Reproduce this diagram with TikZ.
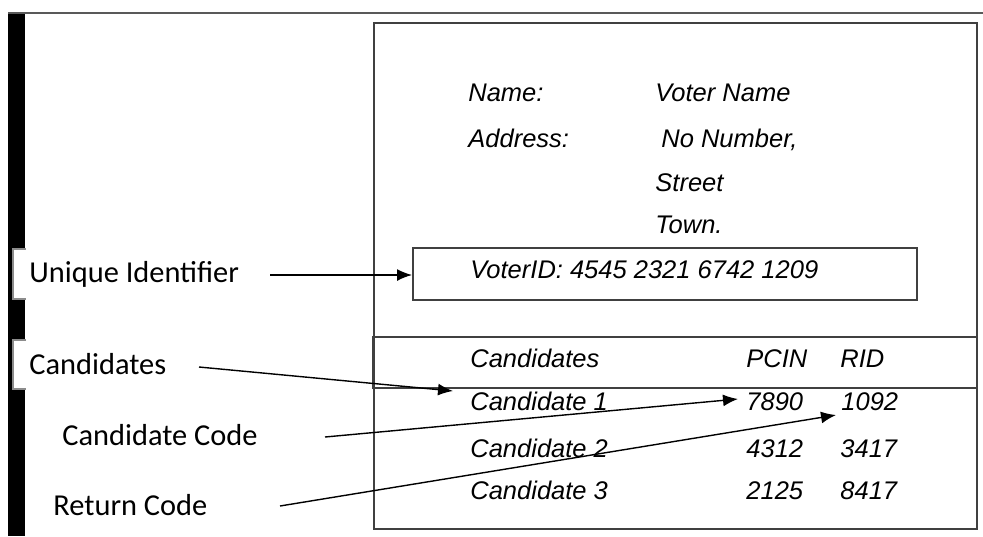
\documentclass[tikz,border=0pt]{standalone}
\usepackage{fontspec}
\newfontfamily\ballotfont{Liberation Sans}
\newfontfamily\labelfont{Carlito}
\usetikzlibrary{arrows.meta}
\tikzset{
  bt/.style={anchor=base west, inner sep=0pt, font=\ballotfont\itshape\fontsize{12.75}{15}\selectfont},
  lbl/.style={anchor=base west, inner sep=0pt, font=\labelfont\fontsize{15.2}{18}\selectfont},
  frame/.style={draw=black!75, line width=0.75pt, inner sep=0pt, anchor=north west},
  arr/.style={-{Latex[length=7.5pt,width=6pt]}, line width=0.7pt, black},
}
\begin{document}
\begin{tikzpicture}[x=0.5pt,y=-0.5pt]
\useasboundingbox (0,0) rectangle (983,536);
% left black bar and top rule
\fill[black] (8,13) rectangle (25,536);
\draw[black!65, line width=1pt] (8,13) -- (983,13);
% white notches for labels
\fill[white] (13,249) rectangle (26,299);
\draw[black!45, line width=0.6pt] (26,249) -- (13,249) -- (13,299) -- (26,299);
\fill[white] (13,340) rectangle (26,389);
\draw[black!45, line width=0.6pt] (26,340) -- (13,340) -- (13,389) -- (26,389);
% ballot frames
\node[frame, minimum width=301.5pt, minimum height=253pt] (ballot) at (373,22) {};
\node[frame, minimum width=252pt, minimum height=26pt] (vid) at (412,247) {};
\node[frame, minimum width=302pt, minimum height=25.5pt] (band) at (372,336) {};
% ballot texts
\node[bt] (name) at (468,101) {Name:};
\node[bt] (vname) at (655,101) {Voter Name};
\node[bt] (addr) at (468,147) {Address:};
\node[bt] (num) at (661,147) {No Number,};
\node[bt] (street) at (655,191) {Street};
\node[bt] (town) at (655,233) {Town.};
\node[bt] (vidtext) at (470,278) {VoterID: 4545 2321 6742 1209};
\node[bt] (hcand) at (470,367) {Candidates};
\node[bt] (hpcin) at (746,367) {PCIN};
\node[bt] (hrid) at (840,367) {RID};
\node[bt] (c1) at (470,410) {Candidate 1};
\node[bt] (p1) at (746,410) {7890};
\node[bt] (r1) at (841,410) {1092};
\node[bt] (c2) at (470,457) {Candidate 2};
\node[bt] (p2) at (746,457) {4312};
\node[bt] (r2) at (840,457) {3417};
\node[bt] (c3) at (470,499) {Candidate 3};
\node[bt] (p3) at (746,499) {2125};
\node[bt] (r3) at (840,499) {8417};
% left labels
\node[lbl] (ui) at (29,282) {Unique Identifier};
\node[lbl] (cands) at (29,374) {Candidates};
\node[lbl] (ccode) at (62,445) {Candidate Code};
\node[lbl] (rcode) at (53,515) {Return Code};
% connector end points
\coordinate (uiS) at (270,275);
\coordinate (candS) at (199,367);
\coordinate (candT) at (453,391);
\coordinate (ccS) at (325,437);
\coordinate (ccT) at (738,399);
\coordinate (rcS) at (280,506);
\coordinate (rcT) at (836,415);
% connectors
\draw[arr] (uiS) -- (uiS -| vid.west);
\draw[arr] (candS) -- (candT);
\draw[arr] (ccS) -- (ccT);
\draw[arr] (rcS) -- (rcT);
\end{tikzpicture}
\end{document}
